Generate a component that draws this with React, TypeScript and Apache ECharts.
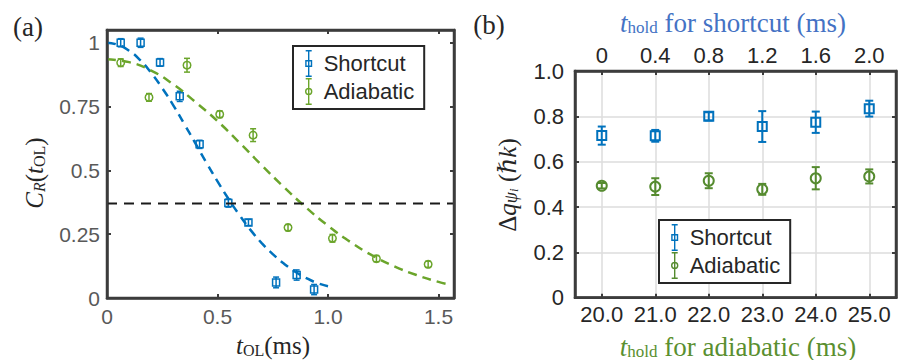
import React, { useEffect, useRef } from 'react';
import * as echarts from 'echarts';

const SANS = '"Liberation Sans", Arial, Helvetica, sans-serif';
const SERIF = '"Liberation Serif", "DejaVu Serif", "Times New Roman", serif';

// ---------- Panel (a) data ----------
const shortcutT = [0.062, 0.152, 0.24, 0.329, 0.419, 0.549, 0.64, 0.765, 0.858, 0.937];
const shortcutC = [1.0, 1.0, 0.923, 0.79, 0.602, 0.372, 0.296, 0.061, 0.09, 0.033];
const shortcutCErr = [0.016, 0.018, 0.015, 0.02, 0.016, 0.016, 0.012, 0.021, 0.02, 0.02];

const adiabaticT = [0.062, 0.19, 0.362, 0.51, 0.661, 0.819, 1.02, 1.219, 1.453];
const adiabaticC = [0.922, 0.786, 0.912, 0.72, 0.638, 0.276, 0.234, 0.154, 0.132];
const adiabaticCErr = [0.015, 0.015, 0.027, 0.013, 0.025, 0.012, 0.015, 0.012, 0.012];

const shortcutFitT = [0, 0.05, 0.1, 0.15, 0.2, 0.25, 0.3, 0.35, 0.4, 0.45, 0.5, 0.55, 0.6, 0.65, 0.7, 0.75, 0.8, 0.85, 0.9, 0.95, 1.0];
const shortcutFitC = [1.0, 0.992, 0.969, 0.932, 0.882, 0.822, 0.755, 0.681, 0.606, 0.53, 0.457, 0.388, 0.324, 0.266, 0.215, 0.172, 0.135, 0.104, 0.079, 0.059, 0.046];

const adiabaticFitT = [0, 0.1, 0.2, 0.3, 0.4, 0.5, 0.6, 0.7, 0.8, 0.9, 1.0, 1.1, 1.2, 1.3, 1.4, 1.5, 1.55];
const adiabaticFitC = [0.935, 0.924, 0.891, 0.837, 0.768, 0.693, 0.608, 0.52, 0.435, 0.355, 0.283, 0.22, 0.167, 0.124, 0.09, 0.063, 0.053];

const thresholdC = 0.37;
const aXMax = 1.57;
const aYMax = 1.05;
const aXTicks = [0, 0.5, 1.0, 1.5];
const aXTickLabels = ['0', '0.5', '1.0', '1.5'];
const aYTicks = [0, 0.25, 0.5, 0.75, 1];
const aYTickLabels = ['0', '0.25', '0.5', '0.75', '1'];

// ---------- Panel (b) data ----------
const holdShortcut = [0, 0.4, 0.8, 1.2, 1.6, 2.0];
const holdAdiabatic = [20, 21, 22, 23, 24, 25];
const dqShortcut = [0.715, 0.714, 0.8, 0.755, 0.774, 0.834];
const dqShortcutErr = [0.04, 0.026, 0.018, 0.068, 0.047, 0.035];
const dqAdiabatic = [0.494, 0.49, 0.516, 0.478, 0.527, 0.535];
const dqAdiabaticErr = [0.012, 0.037, 0.033, 0.024, 0.049, 0.031];
const bTopTickLabels = ['0', '0.4', '0.8', '1.2', '1.6', '2.0'];
const bBottomTickLabels = ['20.0', '21.0', '22.0', '23.0', '24.0', '25.0'];
const bYTickLabels = ['0', '0.2', '0.4', '0.6', '0.8', '1.0'];

// ---------- layout & styles ----------
const GRID_A = { left: 107, top: 30, width: 347, height: 268 };
const GRID_B = { left: 575, top: 71, width: 321, height: 226.7 };
const BLUE = '#0072BD';
const GREEN_A = '#6BA52B';
const GREEN_B = '#558B2F';
const AXIS = '#3c3c3c';
const GRIDC = '#dcdcdc';
const TXT = '#262626';
const TOP_BLUE = '#4472C4';
const BOT_GREEN = '#5A8F2F';

function rectPath(x0: number, y0: number, x1: number, y1: number) {
  return `M${x0} ${y0}L${x1} ${y0}L${x1} ${y1}L${x0} ${y1}Z`;
}
const barPart =
  rectPath(1, 0, 7, 1.5) + rectPath(3.3, 0, 4.7, 27) + rectPath(1, 25.5, 7, 27);
const squareIcon =
  'path://' +
  barPart +
  rectPath(0.5, 10, 7.5, 11.4) +
  rectPath(0.5, 15.6, 7.5, 17) +
  rectPath(0.5, 10, 1.9, 17) +
  rectPath(6.1, 10, 7.5, 17);
const circleIcon =
  'path://' +
  barPart +
  'M0.3 13.5A3.7 3.7 0 1 1 7.7 13.5A3.7 3.7 0 1 1 0.3 13.5Z' +
  'M1.7 13.5A2.3 2.3 0 1 0 6.3 13.5A2.3 2.3 0 1 0 1.7 13.5Z';

function makeRender(shape: 'square' | 'circle', color: string, size: number, cap: number, lw: number) {
  return (params: any, api: any) => {
    const x = api.value(0);
    const y = api.value(1);
    const e = api.value(2);
    const c = api.coord([x, y]);
    const t = api.coord([x, y + e]);
    const b = api.coord([x, y - e]);
    const style = { stroke: color, lineWidth: lw, fill: 'none' };
    const marker =
      shape === 'square'
        ? { type: 'rect', shape: { x: c[0] - size / 2, y: c[1] - size / 2, width: size, height: size }, style }
        : { type: 'circle', shape: { cx: c[0], cy: c[1], r: size / 2 }, style };
    return {
      type: 'group',
      children: [
        { type: 'line', shape: { x1: c[0], y1: t[1], x2: c[0], y2: b[1] }, style },
        { type: 'line', shape: { x1: c[0] - cap / 2, y1: t[1], x2: c[0] + cap / 2, y2: t[1] }, style },
        { type: 'line', shape: { x1: c[0] - cap / 2, y1: b[1], x2: c[0] + cap / 2, y2: b[1] }, style },
        marker,
      ],
    };
  };
}

const zip2 = (a: number[], b: number[]) => a.map((v, i) => [v, b[i]]);
const zip3 = (a: number[], b: number[], c: number[]) => a.map((v, i) => [v, b[i], c[i]]);
const lookup = (vals: number[], labels: string[]) => (v: number) => {
  const i = vals.findIndex((u) => Math.abs(u - v) < 1e-9);
  return i >= 0 ? labels[i] : '';
};

const tickStyle = (values?: number[]) => ({
  show: true,
  inside: true,
  length: 4,
  lineStyle: { color: AXIS, width: 2 },
  ...(values ? { customValues: values } : {}),
});
const axisLineStyle = () => ({ show: true, onZero: false, lineStyle: { color: AXIS, width: 2.5 } });

function rich(size: number, lh: number, italic: boolean, fill: string) {
  return {
    fontFamily: SERIF,
    fontSize: size,
    lineHeight: lh,
    verticalAlign: 'bottom',
    fontStyle: italic ? 'italic' : 'normal',
    fill,
  };
}

function frame(g: { left: number; top: number; width: number; height: number }) {
  return {
    type: 'rect',
    silent: true,
    z: 50,
    shape: { x: g.left, y: g.top, width: g.width, height: g.height },
    style: { fill: 'none', stroke: AXIS, lineWidth: 2.5 },
  };
}

function buildOption(): any {
  return {
    animation: false,
    backgroundColor: '#ffffff',
    grid: [
      { ...GRID_A, containLabel: false, outerBoundsMode: 'none' },
      { ...GRID_B, containLabel: false, outerBoundsMode: 'none' },
    ],
    xAxis: [
      {
        gridIndex: 0, type: 'value', position: 'bottom', min: 0, max: aXMax,
        axisLine: axisLineStyle(), axisTick: tickStyle(aXTicks),
        axisLabel: {
          customValues: aXTicks, formatter: lookup(aXTicks, aXTickLabels), margin: 8,
          color: '#595959', fontSize: 21, fontFamily: SANS,
        },
        splitLine: { show: false },
      },
      {
        gridIndex: 0, type: 'value', position: 'top', min: 0, max: aXMax,
        axisLine: axisLineStyle(), axisTick: tickStyle(aXTicks),
        axisLabel: { show: false }, splitLine: { show: false },
      },
      {
        gridIndex: 1, type: 'value', position: 'bottom', min: 19.5, max: 25.5, splitNumber: 6,
        axisLine: axisLineStyle(), axisTick: tickStyle(holdAdiabatic),
        axisLabel: {
          customValues: holdAdiabatic, formatter: lookup(holdAdiabatic, bBottomTickLabels), margin: 6,
          color: TXT, fontSize: 22, fontFamily: SANS,
        },
        splitLine: { show: true, lineStyle: { color: GRIDC, width: 1.5 } },
      },
      {
        gridIndex: 1, type: 'value', position: 'top', min: -0.2, max: 2.2,
        axisLine: axisLineStyle(), axisTick: tickStyle(holdShortcut),
        axisLabel: {
          customValues: holdShortcut, formatter: lookup(holdShortcut, bTopTickLabels), margin: 5,
          color: TXT, fontSize: 22, fontFamily: SANS,
        },
        splitLine: { show: false },
      },
    ],
    yAxis: [
      {
        gridIndex: 0, type: 'value', position: 'left', min: 0, max: aYMax,
        axisLine: axisLineStyle(), axisTick: tickStyle(aYTicks),
        axisLabel: {
          customValues: aYTicks, formatter: lookup(aYTicks, aYTickLabels), margin: 7,
          color: '#595959', fontSize: 21, fontFamily: SANS,
        },
        splitLine: { show: false },
      },
      {
        gridIndex: 0, type: 'value', position: 'right', min: 0, max: aYMax,
        axisLine: axisLineStyle(), axisTick: tickStyle(aYTicks),
        axisLabel: { show: false }, splitLine: { show: false },
      },
      {
        gridIndex: 1, type: 'value', position: 'left', min: 0, max: 1, interval: 0.2,
        axisLine: axisLineStyle(), axisTick: tickStyle(),
        axisLabel: {
          formatter: (v: number) => bYTickLabels[Math.round(v / 0.2)] ?? '', margin: 11,
          color: TXT, fontSize: 22, fontFamily: SANS,
        },
        splitLine: { show: true, lineStyle: { color: GRIDC, width: 1.5 } },
      },
      {
        gridIndex: 1, type: 'value', position: 'right', min: 0, max: 1, interval: 0.2,
        axisLine: axisLineStyle(), axisTick: tickStyle(),
        axisLabel: { show: false }, splitLine: { show: false },
      },
    ],
    legend: [
      {
        orient: 'vertical', left: 293, top: 46, itemWidth: 8, itemHeight: 27, itemGap: 1,
        padding: [4, 10, 4, 12], borderColor: TXT, borderWidth: 2, backgroundColor: '#fff',
        selectedMode: false, itemStyle: { borderWidth: 0 },
        textStyle: { fontSize: 22, color: TXT, fontFamily: SANS, padding: [0, 0, 0, 6] },
        data: [
          { name: 'Shortcut', icon: squareIcon, itemStyle: { color: BLUE } },
          { name: 'Adiabatic', icon: circleIcon, itemStyle: { color: GREEN_A } },
        ],
      },
      {
        orient: 'vertical', left: 659, top: 220, itemWidth: 8, itemHeight: 27, itemGap: 1,
        padding: [4, 10, 4, 12], borderColor: TXT, borderWidth: 2, backgroundColor: '#fff',
        selectedMode: false, itemStyle: { borderWidth: 0 },
        textStyle: { fontSize: 22, color: TXT, fontFamily: SANS, padding: [0, 0, 0, 6] },
        data: [
          { name: 'Shortcut', icon: squareIcon, itemStyle: { color: BLUE } },
          { name: 'Adiabatic', icon: circleIcon, itemStyle: { color: GREEN_B } },
        ],
      },
    ],
    series: [
      {
        name: 'Shortcut fit', type: 'line', xAxisIndex: 0, yAxisIndex: 0, silent: true,
        data: zip2(shortcutFitT, shortcutFitC), showSymbol: false, smooth: true,
        lineStyle: { color: BLUE, width: 2.5, type: [9, 6] },
      },
      {
        name: 'Adiabatic fit', type: 'line', xAxisIndex: 0, yAxisIndex: 0, silent: true,
        data: zip2(adiabaticFitT, adiabaticFitC), showSymbol: false, smooth: true,
        lineStyle: { color: GREEN_A, width: 2.5, type: [9, 6] },
      },
      {
        name: '1/e', type: 'line', xAxisIndex: 0, yAxisIndex: 0, silent: true,
        data: [[0, thresholdC], [aXMax, thresholdC]], showSymbol: false,
        lineStyle: { color: '#1a1a1a', width: 2, type: [10, 7] },
      },
      {
        name: 'Shortcut', type: 'custom', xAxisIndex: 0, yAxisIndex: 0,
        itemStyle: { color: BLUE }, encode: { x: 0, y: 1 },
        data: zip3(shortcutT, shortcutC, shortcutCErr),
        renderItem: makeRender('square', BLUE, 7, 6, 1.5),
      },
      {
        name: 'Adiabatic', type: 'custom', xAxisIndex: 0, yAxisIndex: 0,
        itemStyle: { color: GREEN_A }, encode: { x: 0, y: 1 },
        data: zip3(adiabaticT, adiabaticC, adiabaticCErr),
        renderItem: makeRender('circle', GREEN_A, 7.5, 6, 1.5),
      },
      {
        name: 'Shortcut', type: 'custom', xAxisIndex: 3, yAxisIndex: 2,
        itemStyle: { color: BLUE }, encode: { x: 0, y: 1 },
        data: zip3(holdShortcut, dqShortcut, dqShortcutErr),
        renderItem: makeRender('square', BLUE, 9, 8, 2),
      },
      {
        name: 'Adiabatic', type: 'custom', xAxisIndex: 2, yAxisIndex: 2,
        itemStyle: { color: GREEN_B }, encode: { x: 0, y: 1 },
        data: zip3(holdAdiabatic, dqAdiabatic, dqAdiabaticErr),
        renderItem: makeRender('circle', GREEN_B, 10, 8, 2),
      },
    ],
    graphic: [
      frame(GRID_A),
      frame(GRID_B),
      {
        type: 'text', x: 28, y: 27,
        style: { text: '(a)', fontFamily: SERIF, fontSize: 27, fill: TXT, align: 'center', verticalAlign: 'middle' },
      },
      {
        type: 'text', x: 489, y: 25,
        style: { text: '(b)', fontFamily: SERIF, fontSize: 27, fill: TXT, align: 'center', verticalAlign: 'middle' },
      },
      {
        type: 'text', x: 273, y: 344,
        style: {
          text: '{i|t}{s|OL}{n|(ms)}', align: 'center', verticalAlign: 'middle', fill: TXT,
          rich: { i: rich(25, 28, true, TXT), s: rich(16, 11, false, TXT), n: rich(25, 28, false, TXT) },
        },
      },
      {
        type: 'text', x: 33, y: 173, rotation: Math.PI / 2,
        style: {
          text: '{i|C}{si|R}{n|(}{i|t}{s|OL}{n|)}', align: 'center', verticalAlign: 'middle', fill: TXT,
          rich: {
            i: rich(25, 28, true, TXT), si: rich(16, 11, true, TXT),
            s: rich(16, 11, false, TXT), n: rich(25, 28, false, TXT),
          },
        },
      },
      {
        type: 'text', x: 506, y: 185, rotation: Math.PI / 2,
        style: {
          text: '{n|Δ}{i|q}{si|ψ}{ssi|i}{n| (}{i|ℏk}{n|)}', align: 'center', verticalAlign: 'middle', fill: TXT,
          rich: {
            i: rich(25, 28, true, TXT), n: rich(25, 28, false, TXT),
            si: rich(18, 11, true, TXT), ssi: rich(13, 4, true, TXT),
          },
        },
      },
      {
        type: 'text', x: 733, y: 21,
        style: {
          text: '{i|t}{s|hold}{n| for shortcut (ms)}', align: 'center', verticalAlign: 'middle', fill: TOP_BLUE,
          rich: { i: rich(27, 30, true, TOP_BLUE), s: rich(17, 12, false, TOP_BLUE), n: rich(27, 30, false, TOP_BLUE) },
        },
      },
      {
        type: 'text', x: 738, y: 345,
        style: {
          text: '{i|t}{s|hold}{n| for adiabatic (ms)}', align: 'center', verticalAlign: 'middle', fill: BOT_GREEN,
          rich: { i: rich(27, 30, true, BOT_GREEN), s: rich(17, 12, false, BOT_GREEN), n: rich(27, 30, false, BOT_GREEN) },
        },
      },
    ],
  };
}

export default function App() {
  const ref = useRef<HTMLDivElement>(null);
  useEffect(() => {
    document.body.style.margin = '0';
    if (!ref.current) return;
    const chart = echarts.init(ref.current, undefined, { renderer: 'svg' });
    chart.setOption(buildOption());
    return () => chart.dispose();
  }, []);
  return <div ref={ref} style={{ width: 898, height: 360 }} />;
}
